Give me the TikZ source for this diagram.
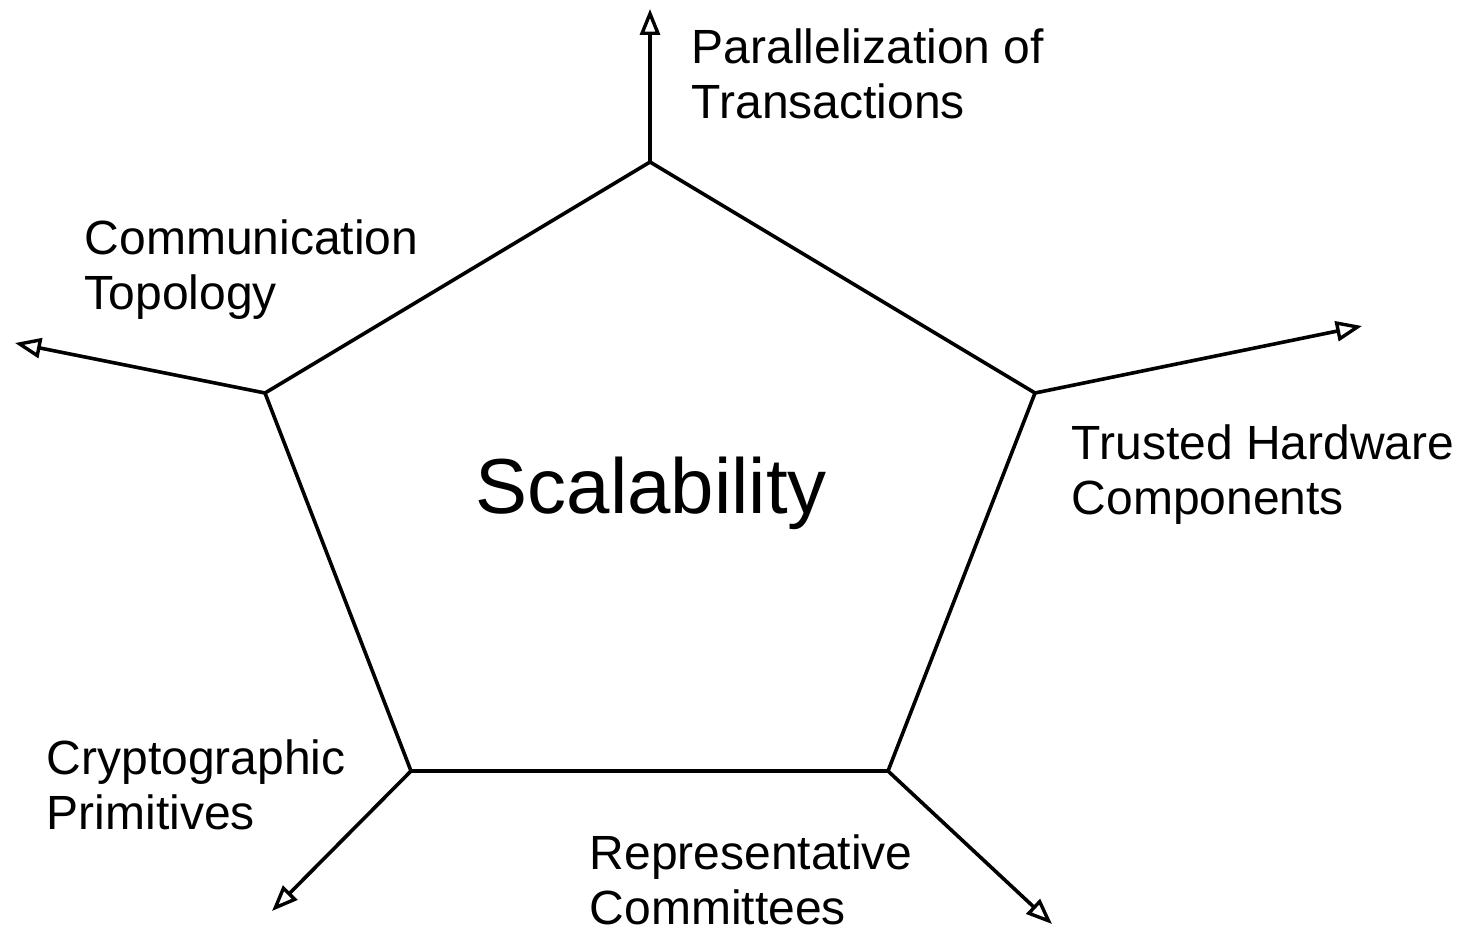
\documentclass[tikz,border=0pt]{standalone}
\usepackage{fontspec}
\setmainfont{Liberation Sans}
\usetikzlibrary{arrows.meta}
\begin{document}
\begin{tikzpicture}[x=1pt,y=-1pt,line width=3.6pt,
  arr/.style={-{Triangle[open,length=26pt,width=20pt,line width=3.4pt]}},
  lbl/.style={anchor=base west,inner sep=0pt,align=left,font=\fontsize{48}{55}\selectfont}]
\useasboundingbox (0,0) rectangle (1463,928);
\coordinate (T) at (650,162);
\coordinate (R) at (1035,393);
\coordinate (BR) at (888,771);
\coordinate (BL) at (411,771);
\coordinate (L) at (265,393);
\coordinate (tT) at (650,9);
\coordinate (tR) at (1362,326);
\coordinate (tBR) at (1052,924);
\coordinate (tBL) at (272,911);
\coordinate (tL) at (15,343);
\draw[line join=miter] (T) -- (R) -- (BR) -- (BL) -- (L) -- cycle;
\draw[arr] (T) -- (tT);
\draw[arr] (R) -- (tR);
\draw[arr] (BR) -- (tBR);
\draw[arr] (BL) -- (tBL);
\draw[arr] (L) -- (tL);
\node[anchor=base west,inner sep=0pt,font=\fontsize{78}{90}\selectfont] (center) at (474,513) {Scalability};
\node[lbl] (par) at (690,119) {Parallelization of\\Transactions};
\node[lbl] (com) at (83,309) {Communication\\Topology};
\node[lbl] (tru) at (1070,514) {Trusted Hardware\\Components};
\node[lbl] (cry) at (45,829) {Cryptographic\\Primitives};
\node[lbl] (rep) at (588,924) {Representative\\Committees};
\end{tikzpicture}
\end{document}
